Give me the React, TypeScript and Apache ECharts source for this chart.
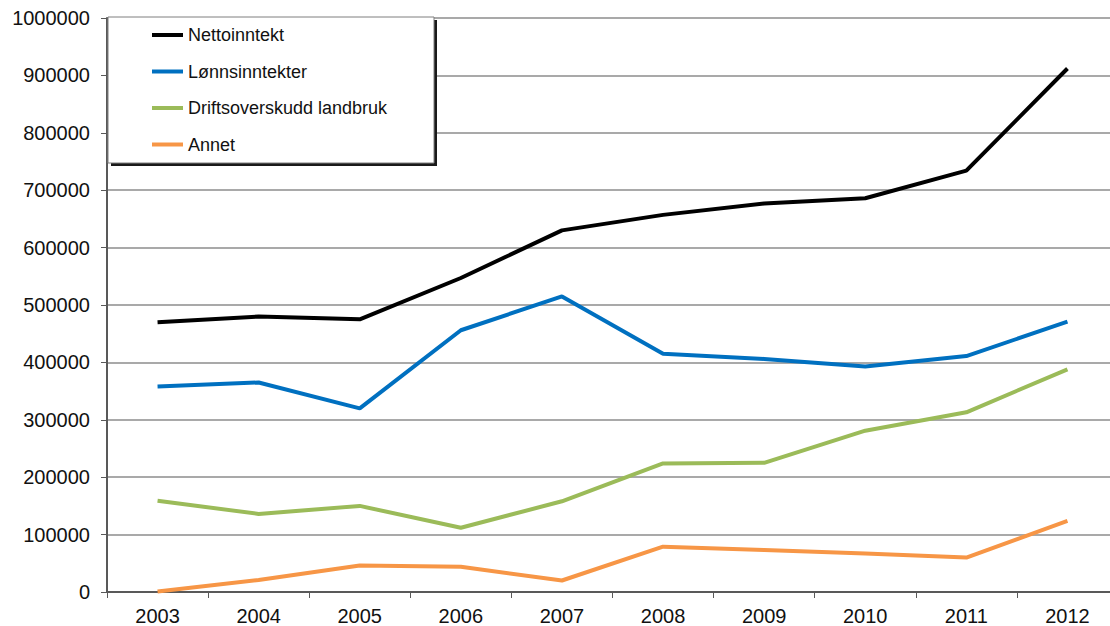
import React, { useEffect, useRef } from "react";
import * as echarts from "echarts";

const years = ["2003", "2004", "2005", "2006", "2007", "2008", "2009", "2010", "2011", "2012"];
const nettoinntekt = [470000, 480000, 475000, 547000, 630000, 657000, 677000, 686000, 734000, 912000];
const lonnsinntekter = [358000, 365000, 320000, 456000, 515000, 415000, 406000, 393000, 411000, 471000];
const driftsoverskudd = [159000, 136000, 150000, 112000, 158000, 224000, 225000, 281000, 313000, 388000];
const annet = [1000, 21000, 46000, 44000, 20000, 79000, 73000, 67000, 60000, 124000];

const seriesNames = ["Nettoinntekt", "Lønnsinntekter", "Driftsoverskudd landbruk", "Annet"];
const seriesColors = ["#000000", "#0070C0", "#9BBB59", "#F79646"];
const seriesData = [nettoinntekt, lonnsinntekter, driftsoverskudd, annet];

const FONT = "'Liberation Sans', Arial, sans-serif";

export default function App() {
  const ref = useRef<HTMLDivElement>(null);
  useEffect(() => {
    if (!ref.current) return;
    const chart = echarts.init(ref.current, null, { renderer: "svg" });
    chart.setOption({
      animation: false,
      backgroundColor: "#ffffff",
      grid: { left: 107, right: 2, top: 18, bottom: 34, containLabel: false },
      xAxis: {
        type: "category",
        data: years,
        boundaryGap: true,
        axisLine: { lineStyle: { color: "#595959", width: 2 } },
        axisTick: { show: true, length: 6, lineStyle: { color: "#595959", width: 1 } },
        axisLabel: { color: "#111", fontSize: 20, fontFamily: FONT, margin: 14 },
        splitLine: { show: false },
      },
      yAxis: {
        type: "value",
        min: 0,
        max: 1000000,
        interval: 100000,
        axisLine: { show: true, lineStyle: { color: "#595959", width: 2 } },
        axisTick: { show: true, length: 6, lineStyle: { color: "#595959", width: 1 } },
        axisLabel: {
          color: "#111",
          fontSize: 20,
          fontFamily: FONT,
          margin: 17,
          formatter: (v: number) => String(v),
        },
        splitLine: { show: true, lineStyle: { color: "#8c8c8c", width: 1.5 } },
      },
      legend: {
        orient: "vertical",
        left: 152,
        top: 26,
        padding: 0,
        itemWidth: 31,
        itemHeight: 4,
        itemGap: 18.5,
        icon: "rect",
        z: 10,
        textStyle: { color: "#111", fontSize: 18, fontFamily: FONT },
        data: seriesNames,
      },
      graphic: [
        {
          type: "rect",
          z: 5,
          shape: { x: 111, y: 20, width: 326, height: 146 },
          style: { fill: "#1a1a1a" },
        },
        {
          type: "rect",
          z: 6,
          shape: { x: 108, y: 17, width: 326, height: 146 },
          style: { fill: "#ffffff", stroke: "#7f7f7f", lineWidth: 1 },
        },
      ],
      series: seriesNames.map((name, i) => ({
        name,
        type: "line",
        data: seriesData[i],
        showSymbol: false,
        symbol: "none",
        itemStyle: { color: seriesColors[i] },
        lineStyle: { color: seriesColors[i], width: 4 },
        z: 2,
      })),
    });
    return () => chart.dispose();
  }, []);
  return (
    <div
      ref={ref}
      style={{ position: "fixed", left: 0, top: 0, width: 1120, height: 626 }}
    />
  );
}
